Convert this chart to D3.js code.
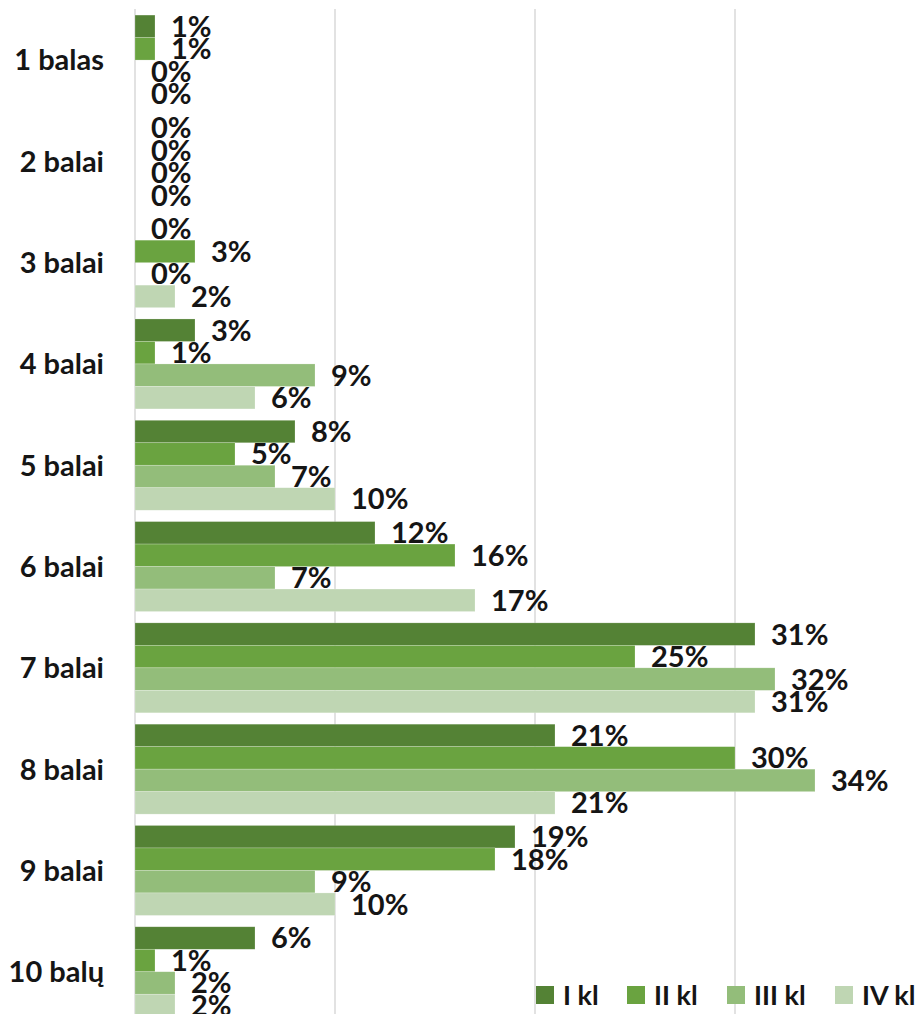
<!DOCTYPE html>
<html>
<head>
<meta charset="utf-8">
<script src="https://cdn.jsdelivr.net/npm/d3@7"></script>
<style>
  body { margin: 0; background: #fff; }
  text { font-family: Lato, "Open Sans", sans-serif; font-weight: bold; fill: #151515; }
</style>
</head>
<body>
<div id="chart"></div>
<script>
// categories and series
var categories = ["1 balas", "2 balai", "3 balai", "4 balai", "5 balai",
                  "6 balai", "7 balai", "8 balai", "9 balai", "10 balų"];
var seriesNames = ["I kl", "II kl", "III kl", "IV kl"];
var seriesColors = ["#548235", "#6aa340", "#93bd7a", "#bfd6b3"];

// values in % per series, same order as categories
var kl1 = [1, 0, 0, 3, 8, 12, 31, 21, 19, 6];
var kl2 = [1, 0, 3, 1, 5, 16, 25, 30, 18, 1];
var kl3 = [0, 0, 0, 9, 7, 7, 32, 34, 9, 2];
var kl4 = [0, 0, 2, 6, 10, 17, 31, 21, 10, 2];
var seriesValues = [kl1, kl2, kl3, kl4];

var xTicks = [0, 10, 20, 30, 40];

// svg area
var svgWidth = 922;
var svgHeight = 1014;

var svg = d3.select("#chart")
    .append("svg")
    .attr("width", svgWidth)
    .attr("height", svgHeight);

// scales
var xScale = d3.scaleLinear()
    .domain([0, 40])
    .range([135, 935]);

var yScale = d3.scaleBand()
    .domain(categories)
    .range([9.4, 1022.4])
    .paddingInner(0.112)
    .paddingOuter(0.056);

var ySub = d3.scaleBand()
    .domain(d3.range(seriesNames.length))
    .range([0, yScale.bandwidth()]);

// gridlines
svg.append("g")
    .selectAll("line")
    .data(xTicks)
    .enter()
    .append("line")
    .attr("x1", d => xScale(d))
    .attr("x2", d => xScale(d))
    .attr("y1", 9)
    .attr("y2", svgHeight)
    .attr("stroke", "#d9d9d9")
    .attr("stroke-width", 1.5);

// flatten data
var rows = [];
categories.forEach(function(c, i) {
    seriesValues.forEach(function(vals, s) {
        rows.push({ cat: c, s: s, value: vals[i] });
    });
});

// bars
svg.append("g")
    .selectAll("rect")
    .data(rows)
    .enter()
    .append("rect")
    .attr("x", xScale(0))
    .attr("y", d => yScale(d.cat) + ySub(d.s))
    .attr("width", d => xScale(d.value) - xScale(0))
    .attr("height", ySub.bandwidth())
    .attr("fill", d => seriesColors[d.s])
    .attr("stroke", "rgba(255,255,255,0.35)")
    .attr("stroke-width", 0.6);

// value labels
svg.append("g")
    .selectAll("text")
    .data(rows)
    .enter()
    .append("text")
    .attr("x", d => xScale(d.value) + 16)
    .attr("y", d => yScale(d.cat) + ySub(d.s) + ySub.bandwidth() / 2)
    .attr("dy", "0.36em")
    .attr("font-size", "29px")
    .text(d => d.value + "%");

// category labels
svg.append("g")
    .selectAll("text")
    .data(categories)
    .enter()
    .append("text")
    .attr("x", 104)
    .attr("y", d => yScale(d) + yScale.bandwidth() / 2)
    .attr("dy", "0.36em")
    .attr("text-anchor", "end")
    .attr("font-size", "29px")
    .text(d => d);

// legend
var legendX = [536, 627, 727, 835];
var legend = svg.append("g")
    .selectAll("g")
    .data(seriesNames)
    .enter()
    .append("g")
    .attr("transform", (d, i) => `translate(${legendX[i]}, 986)`);

legend.append("rect")
    .attr("width", 18)
    .attr("height", 18)
    .attr("fill", (d, i) => seriesColors[i]);

legend.append("text")
    .attr("x", 27)
    .attr("y", 9)
    .attr("dy", "0.36em")
    .attr("font-size", "27px")
    .text(d => d);
</script>
</body>
</html>
